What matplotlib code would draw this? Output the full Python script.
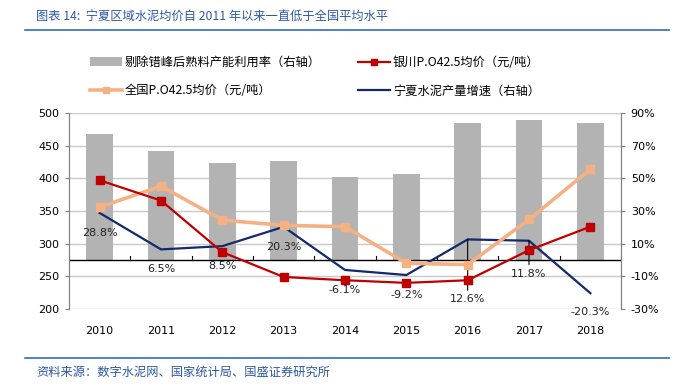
import matplotlib
matplotlib.use("Agg")
import matplotlib.pyplot as plt
from matplotlib.lines import Line2D
from matplotlib.patches import Patch

# data
years = ["2010", "2011", "2012", "2013", "2014", "2015", "2016", "2017", "2018"]
utilization = [77.2, 66.7, 59.2, 60.6, 50.6, 52.7, 84.1, 85.5, 84.1]  # % right axis
yinchuan_price = [397, 366, 287, 249, 244, 240, 244, 290, 326]
national_price = [356, 388, 336, 328, 326, 270, 268, 337, 414]
ningxia_growth = [28.8, 6.5, 8.5, 20.3, -6.1, -9.2, 12.6, 11.8, -20.3]  # % right axis

left_ticks = [200, 250, 300, 350, 400, 450, 500]
right_ticks = [-30, -10, 10, 30, 50, 70, 90]

# label placement (pixels below point) and which ones get a leader line
label_drop = [20, 20, 20, 20, 20, 20, 60, 33, 19]
leader = [False, False, False, False, False, False, True, True, False]

CJK = ["Noto Sans CJK SC", "DejaVu Sans"]
NUM = ["DejaVu Sans", "Noto Sans CJK SC"]

RED = "#C00000"
ORANGE = "#F4B183"
NAVY = "#14286E"
GRAY_BAR = "#B3B3B3"
BLUE_TXT = "#2C58A8"

fig = plt.figure(figsize=(6.78, 3.92), dpi=100)
ax = fig.add_axes([69 / 678, 1 - 309 / 392, (621 - 69) / 678, (309 - 113) / 392])
ax2 = ax.twinx()

# bars + grid + growth line on the right axis, drawn underneath
x = list(range(len(years)))
ax2.set_ylim(-30, 90)
ax2.set_yticks(right_ticks)
ax2.set_yticklabels([f"{t}%" for t in right_ticks], family=NUM, fontsize=8)
ax2.yaxis.grid(True, color="#C8C8C8", lw=1)
ax2.set_axisbelow(True)
ax2.bar(x, utilization, width=0.44, color=GRAY_BAR, zorder=2)
ax2.axhline(0, color="black", lw=1, zorder=3)
for b in [i - 0.5 for i in range(len(years) + 1)]:
    ax2.plot([b, b], [0, 2.5], color="black", lw=0.8, zorder=3)
ax2.plot(x, ningxia_growth, color=NAVY, lw=1.6, zorder=4)

for i, v in enumerate(ningxia_growth):
    drop = label_drop[i] * 0.72
    if leader[i]:
        ax2.annotate(f"{v}%", xy=(i, v), xytext=(0, -drop), textcoords="offset points",
                     ha="center", va="center", fontsize=8, family=NUM, color="#222222",
                     arrowprops=dict(arrowstyle="-", color="black", lw=0.8,
                                     shrinkA=1, shrinkB=0), zorder=6)
    else:
        ax2.annotate(f"{v}%", xy=(i, v), xytext=(0, -drop), textcoords="offset points",
                     ha="center", va="center", fontsize=8, family=NUM, color="#222222",
                     zorder=6)

# price lines on the left axis, on top
ax.set_zorder(ax2.get_zorder() + 1)
ax.patch.set_visible(False)
ax.set_ylim(200, 500)
ax.set_yticks(left_ticks)
ax.set_yticklabels([str(t) for t in left_ticks], family=NUM, fontsize=8)
ax.plot(x, national_price, color=ORANGE, lw=2.6, marker="s", ms=5.5, zorder=5)
ax.plot(x, yinchuan_price, color=RED, lw=1.6, marker="s", ms=5.5, zorder=6)

ax.set_xlim(-0.5, len(years) - 0.5)
ax.set_xticks(x)
ax.set_xticklabels(years, family=NUM, fontsize=8)
ax.tick_params(axis="x", length=0, pad=12)
ax.tick_params(axis="y", length=3, color="#808080", pad=4)
ax2.tick_params(axis="y", length=3, color="#808080", pad=4)

for a in (ax, ax2):
    a.spines["top"].set_visible(False)
    a.spines["bottom"].set_visible(False)
    a.spines["left"].set_color("#808080")
    a.spines["right"].set_color("#808080")

# legend
handles = [
    Patch(facecolor=GRAY_BAR, edgecolor="none"),
    Line2D([], [], color=ORANGE, lw=2.6, marker="s", ms=4),
    Line2D([], [], color=RED, lw=1.6, marker="s", ms=4),
    Line2D([], [], color=NAVY, lw=1.6),
]
labels = [
    "剔除错峰后熟料产能利用率（右轴）",
    "全国P.O42.5均价（元/吨）",
    "银川P.O42.5均价（元/吨）",
    "宁夏水泥产量增速（右轴）",
]
fig.legend(handles, labels, ncol=2, loc="upper left", bbox_to_anchor=(90 / 678, 1 - 56 / 392),
           frameon=False, prop={"family": CJK, "size": 8.8}, handlelength=2.6,
           handleheight=0.8, handletextpad=0.25, columnspacing=3.05, labelspacing=1.26,
           borderaxespad=0, borderpad=0)

# title, rules and source
fig.text(36 / 678, 1 - 16 / 392, "图表 14:  宁夏区域水泥均价自 2011 年以来一直低于全国平均水平",
         family=CJK, fontsize=8.8, color=BLUE_TXT, va="center", ha="left")
fig.add_artist(Line2D([25 / 678, 669 / 678], [1 - 30 / 392] * 2, color="#2F6DB5", lw=1.2))
fig.add_artist(Line2D([25 / 678, 669 / 678], [1 - 358 / 392] * 2, color="#2F6DB5", lw=1.2))
fig.text(36 / 678, 1 - 372 / 392, "资料来源：数字水泥网、国家统计局、国盛证券研究所",
         family=CJK, fontsize=8.8, color=BLUE_TXT, va="center", ha="left")

fig.savefig("out.png", dpi=100)
